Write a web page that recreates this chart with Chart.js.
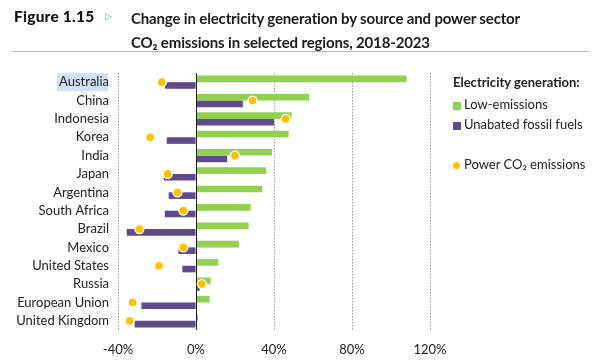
<!DOCTYPE html>
<html>
<head>
<meta charset="utf-8">
<script src="https://cdn.jsdelivr.net/npm/chart.js@4.4.0/dist/chart.umd.min.js"></script>
<style>
  body { margin: 0; background: #fff; }
  #wrap { position: relative; width: 600px; height: 363px; overflow: hidden; }
  #chart { position: absolute; left: 0; top: 0; }
  .fig { position: absolute; left: 14px; top: 7px; font: 900 15.5px Lato, sans-serif; color: #111; letter-spacing: 0.2px; }
  .tri { position: absolute; left: 105px; top: 11px; font: 9px "DejaVu Sans", sans-serif; color: #3aa8c1; }
  .title { position: absolute; left: 131px; top: 6px; font: bold 15px Lato, sans-serif; color: #1c1c1c; line-height: 24px; letter-spacing: -0.15px; }
  .rule { position: absolute; left: 12px; top: 51px; width: 577px; height: 1px; background: #b8b8b8; }
  .legend { position: absolute; left: 453px; top: 74px; font: 13px Lato, sans-serif; color: #222; }
  .legend .head { font-weight: bold; margin-bottom: 4px; }
  .legend .row { height: 20px; line-height: 20px; }
  .sw { display: inline-block; width: 8px; height: 8px; margin-right: 3px; vertical-align: -0.5px; }
  .dot { display: inline-block; width: 7px; height: 7px; border-radius: 50%; background: #ffc000; margin-right: 4px; vertical-align: 0px; }
</style>
</head>
<body>
<div id="wrap">
  <canvas id="chart" width="600" height="363"></canvas>
  <div class="fig">Figure 1.15</div>
  <div class="tri">▷</div>
  <div class="title">Change in electricity generation by source and power sector<br>CO₂ emissions in selected regions, 2018-2023</div>
  <div class="rule"></div>
  <div class="legend">
    <div class="head">Electricity generation:</div>
    <div class="row"><span class="sw" style="background:#92d050"></span>Low-emissions</div>
    <div class="row"><span class="sw" style="background:#5f4b8b"></span>Unabated fossil fuels</div>
    <div class="row" style="margin-top:20px"><span class="dot"></span>Power CO₂ emissions</div>
  </div>
</div>
<script>
const regions = ['Australia', 'China', 'Indonesia', 'Korea', 'India', 'Japan', 'Argentina',
  'South Africa', 'Brazil', 'Mexico', 'United States', 'Russia', 'European Union', 'United Kingdom'];
const lowEmissions = [108, 58, 49, 47.5, 39, 36, 34, 28, 27, 22, 11.5, 7.5, 7, 1];
const fossilFuels = [-16, 24, 40, -15, 16, -16.5, -14, -16, -35.5, -9, -7, 2, -28, -31.5];
const powerCO2 = [-17.5, 29, 46, -23.5, 20, -14.5, -9.5, -6.5, -29, -6.5, -19, 3, -32.5, -34];
const xTicks = [-40, 0, 40, 80, 120];

const chartTop = 73, chartBottom = 330, chartLeft = 118, chartRight = 430;

const extras = {
  id: 'extras',
  beforeDraw(chart) {
    // selection highlight behind the first label
    const ctx = chart.ctx, y = chart.scales.y;
    const yc = y.getPixelForValue(0);
    ctx.save();
    ctx.fillStyle = '#cfe2f7';
    ctx.fillRect(57, yc - 9, 51, 18);
    ctx.restore();
  },
  afterDatasetDraw(chart, args) {
    if (args.index !== 0) return;
    const ctx = chart.ctx, x = chart.scales.x.getPixelForValue(0);
    ctx.save();
    ctx.strokeStyle = '#222';
    ctx.lineWidth = 1;
    ctx.beginPath();
    ctx.moveTo(Math.round(x) + 0.5, chart.chartArea.top);
    ctx.lineTo(Math.round(x) + 0.5, chart.chartArea.bottom);
    ctx.stroke();
    ctx.restore();
  }
};

new Chart(document.getElementById('chart'), {
  type: 'bar',
  data: {
    labels: regions,
    datasets: [
      { label: 'Low-emissions', data: lowEmissions, backgroundColor: '#92d050', order: 1,
        categoryPercentage: 0.72, barPercentage: 1 },
      { label: 'Unabated fossil fuels', data: fossilFuels, backgroundColor: '#5f4b8b', order: 1,
        categoryPercentage: 0.72, barPercentage: 1 },
      { type: 'line', label: 'Power CO₂ emissions', data: powerCO2, indexAxis: 'y', showLine: false,
        pointRadius: 4.5, pointBackgroundColor: '#ffc000', pointBorderColor: '#ffffff',
        pointBorderWidth: 1.3, order: 0 }
    ]
  },
  options: {
    indexAxis: 'y',
    responsive: false,
    animation: false,
    events: [],
    layout: { padding: { top: chartTop, right: 600 - chartRight, bottom: 0, left: 0 } },
    plugins: { legend: { display: false }, tooltip: { enabled: false } },
    scales: {
      x: {
        min: -40, max: 120,
        afterBuildTicks(s) { s.ticks = xTicks.map(v => ({ value: v })); },
        afterFit(s) { s.height = 363 - chartBottom; },
        ticks: { callback: v => v + '%', color: '#222', font: { family: 'Lato', size: 13 }, padding: 12 },
        grid: { drawTicks: false, color: c => c.tick && c.tick.value === 0 ? 'rgba(0,0,0,0)' : '#9a9a9a', lineWidth: 1 },
        border: { display: false, dash: [1.5, 1.5] }
      },
      y: {
        afterFit(s) { s.width = chartLeft; },
        ticks: { autoSkip: false, color: '#222', font: { family: 'Lato', size: 13 }, padding: 9 },
        grid: { display: false, drawTicks: false },
        border: { display: false }
      }
    }
  },
  plugins: [extras]
});
</script>
</body>
</html>
